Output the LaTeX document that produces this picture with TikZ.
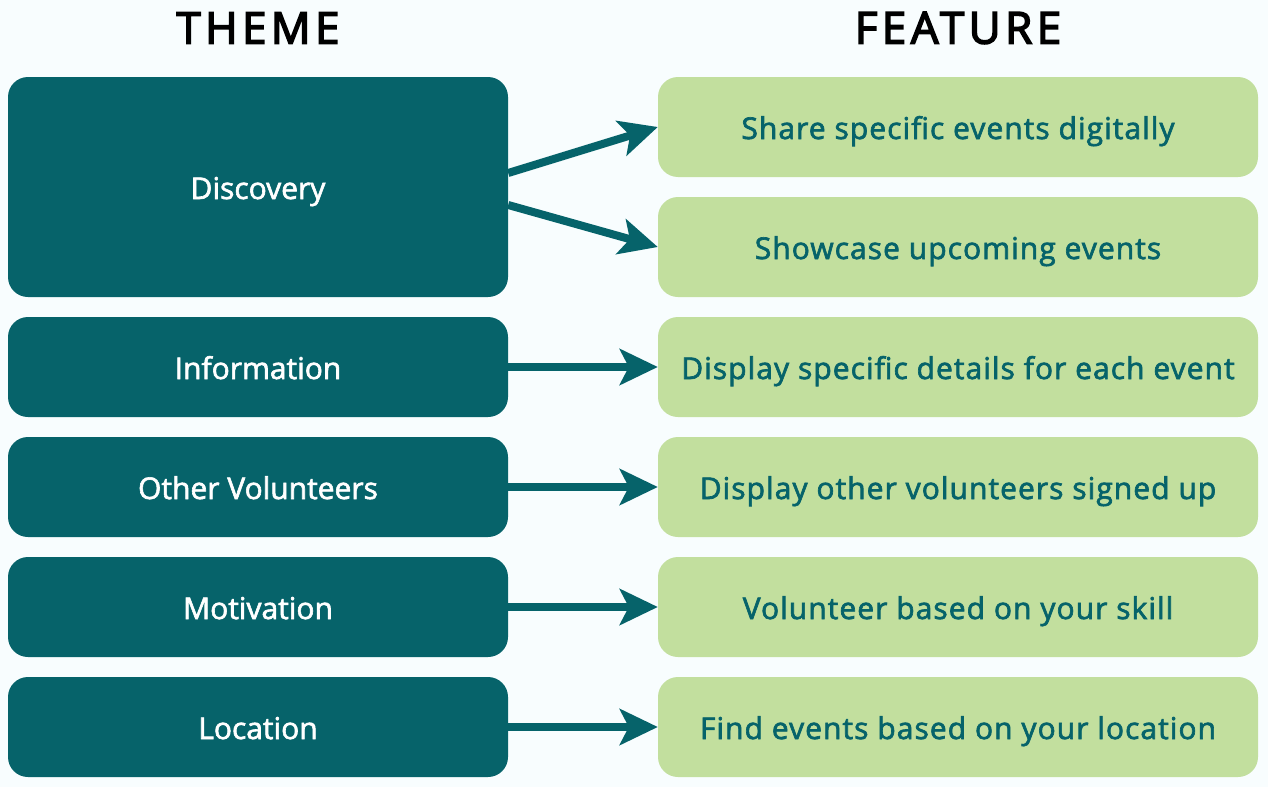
\documentclass[tikz,border=0pt]{standalone}
\usepackage{fontspec}
\setmainfont{Open Sans}
\newfontfamily\medium[FakeBold=2]{Open Sans}
\newfontfamily\featurefont[FakeBold=2.2, LetterSpace=3.5]{Open Sans}
\newfontfamily\headfont[FakeBold=3.5, LetterSpace=10]{Open Sans}
\usetikzlibrary{arrows.meta}
\definecolor{teal}{HTML}{06636A}
\definecolor{leaf}{HTML}{C2DF9E}
\definecolor{paper}{HTML}{F8FDFE}
\begin{document}
\begin{tikzpicture} [
                    x=1pt, y=-1pt,
                    theme/.style={fill=teal, text=white, rounded corners=20pt, minimum width=500pt, minimum height=100pt, inner sep=0pt, text height=24pt, text depth=0pt, font=\fontsize{30}{34}\medium},
                    feature/.style={fill=leaf, text=teal, rounded corners=20pt, minimum width=600pt, minimum height=100pt, inner sep=0pt, text height=24pt, text depth=0pt, font=\fontsize{30}{34}\featurefont},
                    heading/.style={font=\fontsize{44}{50}\headfont, text=black},
                    link/.style={draw=teal, line width=8pt, -{Stealth[length=38pt, width=36pt, inset=9pt]}}
                ]
                \fill [paper] (0,0) rectangle (1268,787);
                \useasboundingbox (0,0) rectangle (1268,787);
                \node [heading] (themehead) at (258,28) {THEME};
                \node [heading] (featurehead) at (958,28) {FEATURE};
                % themes
                \node [theme, minimum height=220pt] (discovery) at (258,187) {Discovery};
                \node [theme] (information) at (258,367) {Information};
                \node [theme] (volunteers) at (258,487) {Other Volunteers};
                \node [theme] (motivation) at (258,607) {Motivation};
                \node [theme] (location) at (258,727) {Location};
                % features
                \node [feature] (share) at (958,127) {Share specific events digitally};
                \node [feature] (showcase) at (958,247) {Showcase upcoming events};
                \node [feature] (details) at (958,367) {Display specific details for each event};
                \node [feature] (others) at (958,487) {Display other volunteers signed up};
                \node [feature] (skill) at (958,607) {Volunteer based on your skill};
                \node [feature] (near) at (958,727) {Find events based on your location};
                % links
                \coordinate (dupper) at ([yshift=14pt]discovery.east);
                \coordinate (dlower) at ([yshift=-18pt]discovery.east);
                \draw [link] (dupper) -- (share.west);
                \draw [link] (dlower) -- (showcase.west);
                \draw [link] (information) -- (details);
                \draw [link] (volunteers) -- (others);
                \draw [link] (motivation) -- (skill);
                \draw [link] (location) -- (near);
\end{tikzpicture}
\end{document}
